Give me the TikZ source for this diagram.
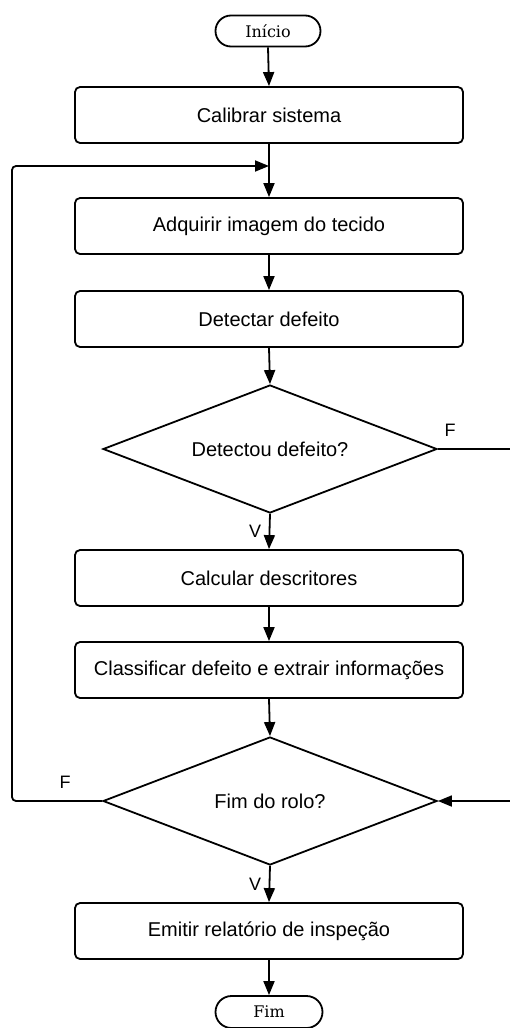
\documentclass[tikz,border=0pt]{standalone}
\usepackage{fontspec}
\newfontfamily\flowsans{Liberation Sans}
\newfontfamily\flowserif{DejaVu Serif}
\usetikzlibrary{shapes.geometric,shapes.misc,arrows.meta}
\begin{document}
\begin{tikzpicture}[x=1pt,y=-1pt,
  line width=1.8pt,
  flow/.style={-{Triangle[length=14pt,width=11pt]}},
  stepbox/.style={draw, rectangle, rounded corners=5pt, minimum width=388pt,
    minimum height=56pt, inner sep=0pt, font=\flowsans\fontsize{20}{24}\selectfont},
  terminal/.style={draw, rounded rectangle, minimum width=105pt, minimum height=31pt,
    inner sep=0pt, font=\flowserif\fontsize{16}{20}\selectfont},
  decision/.style={draw, diamond, aspect=2.6, minimum width=334pt, minimum height=128pt,
    inner sep=0pt, font=\flowsans\fontsize{20}{24}\selectfont},
  lbl/.style={font=\flowsans\fontsize{18}{22}\selectfont, inner sep=0pt}]
\useasboundingbox (0,0) rectangle (509,1028);

% main column
\node[terminal] (start) at (268,31) {Início};
\node[stepbox] (calib) at (269,115) {Calibrar sistema};
\node[stepbox] (adq)   at (269,226) {Adquirir imagem do tecido};
\node[stepbox] (det)   at (269,319) {Detectar defeito};
\node[decision] (dec1) at (270,449) {Detectou defeito?};
\node[stepbox] (calc)  at (269,578) {Calcular descritores};
\node[stepbox] (cls)   at (269,670) {Classificar defeito e extrair informações};
\node[decision] (dec2) at (270,801) {Fim do rolo?};
\node[stepbox] (emit)  at (269,931) {Emitir relatório de inspeção};
\node[terminal, minimum width=107pt, minimum height=32pt] (end) at (269,1012) {Fim};

% branch labels
\node[lbl] (f1) at (450,430) {F};
\node[lbl] (v1) at (255,531) {V};
\node[lbl] (f2) at (65,782) {F};
\node[lbl] (v2) at (255,884) {V};

% loop helper points
\coordinate (join) at (269,166);
\coordinate (loopB) at (12,801);
\coordinate (loopT) at (12,166);
\coordinate (rtop) at (535,449);
\coordinate (rbot) at (535,801);

% straight connectors
\draw[flow] (start.south) -- (calib.north);
\draw[flow] (calib.south) -- (adq.north);
\draw[flow] (adq.south) -- (det.north);
\draw[flow] (det.south) -- (dec1.north);
\draw[flow] (dec1.south) -- (calc.north);
\draw[flow] (calc.south) -- (cls.north);
\draw[flow] (cls.south) -- (dec2.north);
\draw[flow] (dec2.south) -- (emit.north);
\draw[flow] (emit.south) -- (end.north);

% "F" of the end-of-roll test: back to image acquisition
\draw[flow, rounded corners=4pt] (dec2.west) -- (loopB) -- (loopT) -- (join);

% "F" of the defect test: bypass to the end-of-roll test
\draw[flow] (dec1.east) -- (rtop) -- (rbot) -- (dec2.east);
\end{tikzpicture}
\end{document}
